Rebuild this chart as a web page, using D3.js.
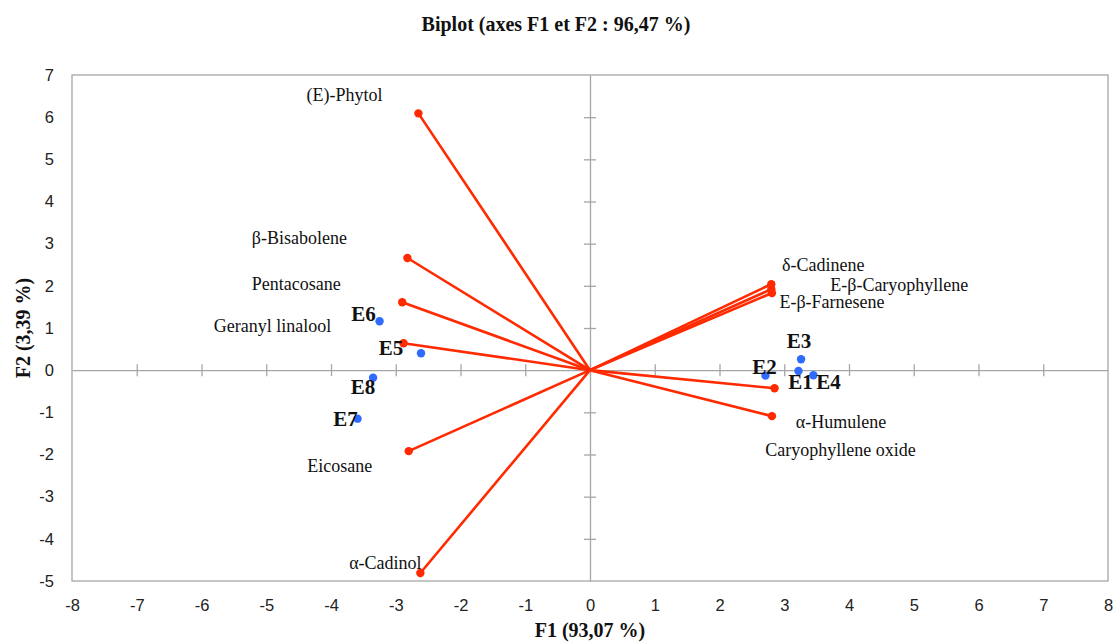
<!DOCTYPE html>
<html>
<head>
<meta charset="utf-8">
<script src="https://cdn.jsdelivr.net/npm/d3@7"></script>
<style>
  body { margin: 0; background: #fff; }
  .tick text { font-family: "Liberation Sans", Arial, sans-serif; font-size: 16.5px; fill: #222; }
  .varLabel { font-family: "Liberation Serif", "Times New Roman", serif; font-size: 18px; fill: #111; }
  .obsLabel { font-family: "Liberation Serif", "Times New Roman", serif; font-size: 21px; font-weight: bold; fill: #111; }
  .axisTitle { font-family: "Liberation Serif", "Times New Roman", serif; font-size: 20px; font-weight: bold; fill: #111; }
</style>
</head>
<body>
<div id="chart"></div>
<script>
// Variables (vectors)
var varNames = ["(E)-Phytol", "β-Bisabolene", "Pentacosane", "Geranyl linalool", "Eicosane", "α-Cadinol",
  "δ-Cadinene", "E-β-Caryophyllene", "E-β-Farnesene", "Caryophyllene oxide", "α-Humulene"];
var varF1 = [-2.65, -2.82, -2.90, -2.88, -2.80, -2.62, 2.80, 2.80, 2.81, 2.85, 2.81];
var varF2 = [6.09, 2.66, 1.61, 0.64, -1.92, -4.81, 2.04, 1.92, 1.83, -0.43, -1.09];

// Observations
var obsNames = ["E1", "E2", "E3", "E4", "E5", "E6", "E7", "E8"];
var obsF1 = [3.22, 2.71, 3.26, 3.45, -2.61, -3.25, -3.59, -3.35];
var obsF2 = [-0.02, -0.13, 0.26, -0.12, 0.40, 1.16, -1.15, -0.18];

var xTicks = [-8, -7, -6, -5, -4, -3, -2, -1, 0, 1, 2, 3, 4, 5, 6, 7, 8];
var yTicks = [-5, -4, -3, -2, -1, 0, 1, 2, 3, 4, 5, 6, 7];

// label offsets in px (centre of text relative to point)
var varLabelOffset = [[-74, -18], [-108, -20], [-106, -18], [-131, -17], [-69, 15], [-35, -10],
  [52, -19], [128, -4], [60, 9], [66, 62], [69, 6]];
var obsLabelOffset = [[2, 11], [-1, -9], [-2, -18], [15, 7], [-30, -5], [-16, -7], [-12, 0], [-10, 9]];

var svgWidth = 1113;
var svgHeight = 642;
var margin = { top: 75, right: 5, bottom: 61, left: 72 };
var chartWidth = svgWidth - margin.left - margin.right;
var chartHeight = svgHeight - margin.top - margin.bottom;

var svg = d3.select("#chart").append("svg")
  .attr("width", svgWidth)
  .attr("height", svgHeight);

var chartGroup = svg.append("g")
  .attr("transform", `translate(${margin.left}, ${margin.top})`);

var x = d3.scaleLinear().domain([-8, 8]).range([0, chartWidth]);
var y = d3.scaleLinear().domain([-5, 7]).range([chartHeight, 0]);

// frame
chartGroup.append("rect")
  .attr("width", chartWidth)
  .attr("height", chartHeight)
  .attr("fill", "none")
  .attr("stroke", "#a6a6a6")
  .attr("stroke-width", 1.3);

// tick labels outside the frame (plain hyphen minus like the original)
var bottomAxis = d3.axisBottom(x).tickValues(xTicks).tickSize(0).tickPadding(18).tickFormat(d => String(d));
var leftAxis = d3.axisLeft(y).tickValues(yTicks).tickSize(0).tickPadding(18).tickFormat(d => String(d));

var gx = chartGroup.append("g")
  .attr("transform", `translate(0, ${chartHeight})`)
  .call(bottomAxis);
gx.select(".domain").remove();

var gy = chartGroup.append("g").call(leftAxis);
gy.select(".domain").remove();

// zero axes with crossing tick marks
var zeroX = chartGroup.append("g")
  .attr("transform", `translate(0, ${y(0)})`)
  .call(d3.axisBottom(x).tickValues(xTicks.slice(1, -1)).tickSizeInner(6).tickSizeOuter(0).tickFormat(""));
zeroX.selectAll(".tick line").attr("y1", -6);
var zeroY = chartGroup.append("g")
  .attr("transform", `translate(${x(0)}, 0)`)
  .call(d3.axisLeft(y).tickValues(yTicks.slice(1, -1)).tickSizeInner(6).tickSizeOuter(0).tickFormat(""));
zeroY.selectAll(".tick line").attr("x1", 6);
chartGroup.selectAll(".domain, .tick line").attr("stroke", "#a6a6a6").attr("stroke-width", 1.3);
gx.selectAll(".tick line").remove();
gy.selectAll(".tick line").remove();

var varData = varNames.map((n, i) => ({ name: n, f1: varF1[i], f2: varF2[i], off: varLabelOffset[i] }));
var obsData = obsNames.map((n, i) => ({ name: n, f1: obsF1[i], f2: obsF2[i], off: obsLabelOffset[i] }));

// vectors
chartGroup.selectAll(".vec")
  .data(varData)
  .enter()
  .append("line")
  .attr("class", "vec")
  .attr("x1", x(0))
  .attr("y1", y(0))
  .attr("x2", d => x(d.f1))
  .attr("y2", d => y(d.f2))
  .attr("stroke", "#ff2a00")
  .attr("stroke-width", 2.6);

chartGroup.selectAll(".vecDot")
  .data(varData)
  .enter()
  .append("circle")
  .attr("class", "vecDot")
  .attr("cx", d => x(d.f1))
  .attr("cy", d => y(d.f2))
  .attr("r", 4.2)
  .attr("fill", "#ff2a00");

chartGroup.selectAll(".varLabel")
  .data(varData)
  .enter()
  .append("text")
  .attr("class", "varLabel")
  .attr("text-anchor", "middle")
  .attr("dominant-baseline", "central")
  .attr("x", d => x(d.f1) + d.off[0])
  .attr("y", d => y(d.f2) + d.off[1])
  .text(d => d.name);

// observations
chartGroup.selectAll(".obsDot")
  .data(obsData)
  .enter()
  .append("circle")
  .attr("class", "obsDot")
  .attr("cx", d => x(d.f1))
  .attr("cy", d => y(d.f2))
  .attr("r", 4.2)
  .attr("fill", "#2f6bff");

chartGroup.selectAll(".obsLabel")
  .data(obsData)
  .enter()
  .append("text")
  .attr("class", "obsLabel")
  .attr("text-anchor", "middle")
  .attr("dominant-baseline", "central")
  .attr("x", d => x(d.f1) + d.off[0])
  .attr("y", d => y(d.f2) + d.off[1])
  .text(d => d.name);

// titles
svg.append("text")
  .attr("class", "axisTitle")
  .attr("x", 556)
  .attr("y", 31)
  .attr("font-size", "19.5px")
  .attr("text-anchor", "middle")
  .text("Biplot (axes F1 et F2 : 96,47 %)");

svg.append("text")
  .attr("class", "axisTitle")
  .attr("x", margin.left + x(0))
  .attr("y", 637)
  .attr("text-anchor", "middle")
  .text("F1 (93,07 %)");

svg.append("text")
  .attr("class", "axisTitle")
  .attr("transform", `translate(23, ${margin.top + chartHeight / 2}) rotate(-90)`)
  .attr("dominant-baseline", "central")
  .attr("text-anchor", "middle")
  .text("F2 (3,39 %)");
</script>
</body>
</html>
